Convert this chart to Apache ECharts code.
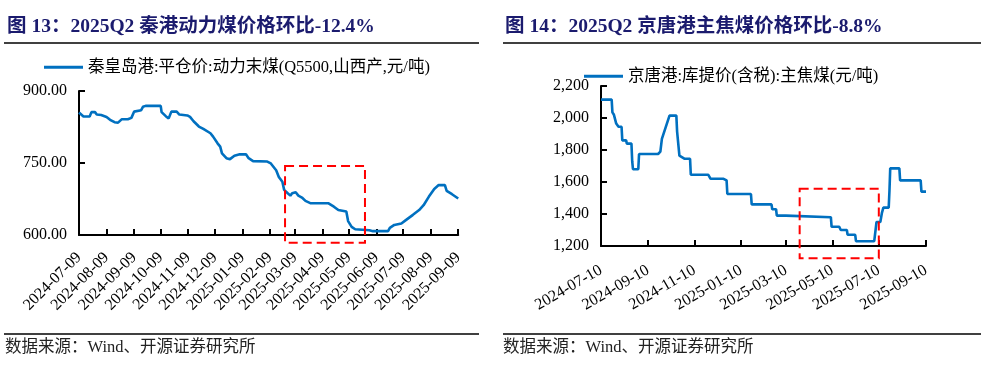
<!DOCTYPE html>
<html><head><meta charset="utf-8">
<script src="https://cdn.jsdelivr.net/npm/echarts@6/dist/echarts.min.js"></script>
<style>
html,body{margin:0;padding:0;background:#fff;}
#bg{position:absolute;left:0;top:0;width:981px;height:366px;}
#left{position:absolute;left:0;top:0;width:466px;height:320px;}
</style>
</head><body>
<div id="bg"></div><div id="left"></div>
<script>
// ---------- data ----------
const leftTitle = '图 13：2025Q2 秦港动力煤价格环比-12.4%';
const rightTitle = '图 14：2025Q2 京唐港主焦煤价格环比-8.8%';
const sourceText = '数据来源：Wind、开源证券研究所';
const leftSeriesName = '秦皇岛港:平仓价:动力末煤(Q5500,山西产,元/吨)';
const rightSeriesName = '京唐港:库提价(含税):主焦煤(元/吨)';

const leftDates = ['2024-07-09','2024-07-14','2024-07-21','2024-07-23','2024-07-27','2024-07-29','2024-08-03','2024-08-09','2024-08-13','2024-08-18','2024-08-22','2024-08-26','2024-09-02','2024-09-06','2024-09-09','2024-09-17','2024-09-19','2024-09-22','2024-10-09','2024-10-10','2024-10-15','2024-10-18','2024-10-21','2024-10-27','2024-10-30','2024-11-08','2024-11-11','2024-11-15','2024-11-21','2024-11-26','2024-12-04','2024-12-07','2024-12-12','2024-12-15','2024-12-17','2024-12-22','2024-12-26','2024-12-31','2025-01-06','2025-01-13','2025-01-16','2025-01-21','2025-02-06','2025-02-10','2025-02-16','2025-02-19','2025-02-23','2025-02-25','2025-03-01','2025-03-04','2025-03-06','2025-03-10','2025-03-13','2025-03-17','2025-03-21','2025-03-27','2025-04-16','2025-04-22','2025-04-27','2025-05-06','2025-05-08','2025-05-12','2025-05-16','2025-06-01','2025-06-05','2025-06-22','2025-06-24','2025-06-29','2025-07-07','2025-07-12','2025-07-20','2025-07-27','2025-08-01','2025-08-07','2025-08-13','2025-08-18','2025-08-25','2025-08-27','2025-09-02','2025-09-09'];
const leftValues = [855,847,847,856,856,851,850,846,840,835,834,841,841,844,857,860,867,869,869,856,847,843,857,857,851,849,846,837,826,821,812,805,791,784,770,760,758,765,768,768,760,754,753,749,735,721,711,694,687,682,687,689,682,678,671,666,666,659,652,649,629,617,612,610,608,608,615,621,624,631,642,652,662,680,696,704,704,692,685,676];
const leftTicks = ['2024-07-09','2024-08-09','2024-09-09','2024-10-09','2024-11-09','2024-12-09','2025-01-09','2025-02-09','2025-03-09','2025-04-09','2025-05-09','2025-06-09','2025-07-09','2025-08-09','2025-09-09'];
const leftYTicks = [600, 750, 900];
const leftBoxDates = ['2025-02-26','2025-05-27'];
const leftBoxValues = [584, 744];

const rightDates = ['2024-07-10','2024-07-24','2024-07-25','2024-07-27','2024-07-30','2024-08-02','2024-08-06','2024-08-07','2024-08-12','2024-08-13','2024-08-19','2024-08-20','2024-08-21','2024-08-28','2024-08-29','2024-09-23','2024-09-26','2024-09-28','2024-10-08','2024-10-17','2024-10-18','2024-10-20','2024-10-21','2024-10-28','2024-11-04','2024-11-05','2024-11-28','2024-12-01','2024-12-18','2024-12-19','2024-12-22','2024-12-23','2025-01-23','2025-01-24','2025-02-19','2025-02-20','2025-02-25','2025-02-26','2025-03-10','2025-03-11','2025-05-08','2025-05-09','2025-05-19','2025-05-21','2025-05-29','2025-05-30','2025-06-09','2025-06-10','2025-07-04','2025-07-07','2025-07-12','2025-07-14','2025-07-16','2025-07-23','2025-07-24','2025-07-25','2025-08-06','2025-08-07','2025-09-03','2025-09-04','2025-09-10'];
const rightValues = [2115,2115,2035,2020,1965,1945,1945,1860,1860,1840,1840,1730,1680,1680,1775,1775,1790,1870,2015,2015,1915,1915,1765,1745,1745,1645,1645,1620,1620,1610,1610,1525,1525,1460,1460,1430,1430,1390,1390,1380,1380,1320,1320,1300,1300,1270,1270,1230,1230,1350,1350,1405,1440,1440,1545,1685,1685,1610,1610,1540,1540];
const rightTicks = ['2024-07-10','2024-09-10','2024-11-10','2025-01-10','2025-03-10','2025-05-10','2025-07-10','2025-09-10'];
const rightYTicks = [1200, 1400, 1600, 1800, 2000, 2200];
const rightBoxDates = ['2025-03-28','2025-07-10'];
const rightBoxValues = [1123, 1558];

// ---------- helpers ----------
const FONT = '"Liberation Serif","Times New Roman","Noto Sans CJK SC",serif';
const BLUE = '#0070C0';
function ts(s){ const p = s.split('-').map(Number); return Date.UTC(p[0], p[1]-1, p[2]) / 86400000; }
function fmtDate(v){ const d = new Date(Math.round(v) * 86400000); const p = n => (n<10?'0':'')+n; return d.getUTCFullYear()+'-'+p(d.getUTCMonth()+1)+'-'+p(d.getUTCDate()); }
function pairs(ds, vs){ return ds.map((d,i)=>[ts(d), vs[i]]); }

function xAxisCfg(ticks, rotate, margin){
  const tv = ticks.map(ts);
  return {
    type:'value', min: tv[0], max: tv[tv.length-1], scale:true,
    axisLine:{show:true, lineStyle:{color:'#000', width:2}},
    axisTick:{show:true, inside:true, length:6, customValues: tv, lineStyle:{color:'#000', width:2}},
    axisLabel:{show:true, customValues: tv, rotate: rotate, margin: margin, formatter: v => fmtDate(v),
      fontFamily: FONT, fontSize: 16, color:'#000', hideOverlap:false, showMinLabel:true, showMaxLabel:true},
    splitLine:{show:false}
  };
}
function yAxisCfg(yt, fmt){
  return {
    type:'value', min: yt[0], max: yt[yt.length-1], interval: yt[1]-yt[0],
    axisLine:{show:true, lineStyle:{color:'#000', width:2}},
    axisTick:{show:true, inside:true, length:6, lineStyle:{color:'#000', width:2}},
    axisLabel:{formatter: fmt, fontFamily: FONT, fontSize: 16, color:'#000', margin: 12},
    splitLine:{show:false}
  };
}
function legendCfg(name, left, top){
  return {data:[name], left:left, top:top, icon:'rect', itemWidth:39, itemHeight:3, itemGap:10,
    textStyle:{fontFamily: FONT, fontSize:16.5, color:'#000'}, padding:0};
}
function lineSeries(name, data){
  return {name:name, type:'line', data:data, showSymbol:false, symbol:'none', color: BLUE,
    lineStyle:{color: BLUE, width:2.6}, animation:false};
}

// ---------- background chart: titles, rules, sources, right chart ----------
const bg = echarts.init(document.getElementById('bg'), null, {renderer:'canvas'});
bg.setOption({
  animation:false,
  grid:{left:601, top:86, width:325, height:160},
  legend: legendCfg(rightSeriesName, 584, 68),
  xAxis: xAxisCfg(rightTicks, 30, 23),
  yAxis: yAxisCfg(rightYTicks, v => v.toLocaleString('en-US')),
  series:[lineSeries(rightSeriesName, pairs(rightDates, rightValues))],
  graphic:[
    {type:'text', style:{text:leftTitle, x:7, y:27, verticalAlign:'middle', font:'bold 19.5px '+FONT, fill:'#1b1b6e'}},
    {type:'text', style:{text:rightTitle, x:505, y:27, verticalAlign:'middle', font:'bold 19.5px '+FONT, fill:'#1b1b6e'}},
    {type:'line', shape:{x1:4, y1:43, x2:479, y2:43}, style:{stroke:'#000', lineWidth:1.5}},
    {type:'line', shape:{x1:503, y1:43, x2:981, y2:43}, style:{stroke:'#000', lineWidth:1.5}},
    {type:'line', shape:{x1:4, y1:334, x2:479, y2:334}, style:{stroke:'#000', lineWidth:1.5}},
    {type:'line', shape:{x1:503, y1:334, x2:981, y2:334}, style:{stroke:'#000', lineWidth:1.5}},
    {type:'text', style:{text:sourceText, x:5, y:348, verticalAlign:'middle', font:'16.5px '+FONT, fill:'#222'}},
    {type:'text', style:{text:sourceText, x:503, y:348, verticalAlign:'middle', font:'16.5px '+FONT, fill:'#222'}}
  ]
});

// ---------- left chart ----------
const lc = echarts.init(document.getElementById('left'), null, {renderer:'canvas'});
lc.setOption({
  animation:false,
  grid:{left:79, top:91, width:384, height:144},
  legend: legendCfg(leftSeriesName, 44, 59),
  xAxis: xAxisCfg(leftTicks, 45, 20),
  yAxis: yAxisCfg(leftYTicks, v => v.toFixed(2)),
  series:[lineSeries(leftSeriesName, pairs(leftDates, leftValues))]
});

function boxGraphic(chart, ds, vs, id){
  const p1 = chart.convertToPixel({gridIndex:0}, [ts(ds[0]), vs[1]]);
  const p2 = chart.convertToPixel({gridIndex:0}, [ts(ds[1]), vs[0]]);
  return {id:id, type:'rect', z:100, shape:{x:p1[0], y:p1[1], width:p2[0]-p1[0], height:p2[1]-p1[1]},
    style:{fill:'none', stroke:'#FF0000', lineWidth:2, lineDash:[9,5]}};
}
lc.setOption({graphic:[boxGraphic(lc, leftBoxDates, leftBoxValues, 'lbox')]});
bg.setOption({graphic:[boxGraphic(bg, rightBoxDates, rightBoxValues, 'rbox')]});
</script>
</body></html>
